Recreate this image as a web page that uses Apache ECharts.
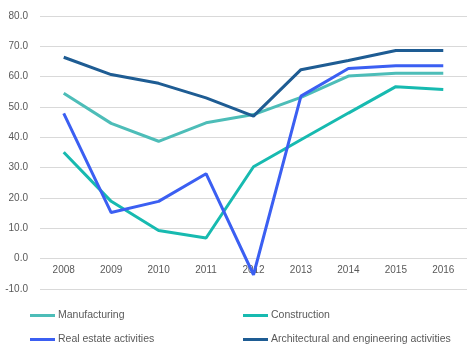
<!DOCTYPE html>
<html>
<head>
<meta charset="utf-8">
<script src="https://cdn.jsdelivr.net/npm/echarts@6/dist/echarts.min.js"></script>
<style>
  html, body { margin: 0; padding: 0; background: #fff; }
  #chart { width: 476px; height: 351px; }
</style>
</head>
<body>
<div id="chart"></div>
<script>
// data
const years = ["2008", "2009", "2010", "2011", "2012", "2013", "2014", "2015", "2016"]
const manufacturing = [54.5, 44.6, 38.7, 44.8, 47.5, 53.2, 60.2, 61.1, 61.1]
const construction = [35.1, 18.9, 9.3, 6.8, 30.3, 39.2, 48.0, 56.7, 55.8]
const realEstate = [47.9, 15.2, 18.9, 28.0, -5.3, 53.6, 62.7, 63.6, 63.6]
const architectural = [66.4, 60.7, 57.8, 53.0, 47.0, 62.3, 65.3, 68.6, 68.6]

const font = "'Liberation Sans', Arial, sans-serif"

const chart = echarts.init(document.getElementById("chart"), null, { renderer: "canvas" })

function line(name, data, color) {
    return {
        name,
        type: "line",
        data,
        symbol: "none",
        lineStyle: { width: 3, color },
        itemStyle: { color },
    }
}

// one legend per entry so the two columns line up like the original
function legendItem(name, left, top) {
    return {
        data: [name],
        left, top,
        padding: 0,
        itemWidth: 25, itemHeight: 3,
        icon: "rect",
        textStyle: { color: "#595959", fontSize: 10.5, fontFamily: font, padding: [0, 0, 0, -2] },
    }
}

chart.setOption({
    animation: false,
    grid: { left: 40, right: 9, top: 16, bottom: 62 },
    legend: [
        legendItem("Manufacturing", 30, 310),
        legendItem("Real estate activities", 30, 334),
        legendItem("Construction", 243, 310),
        legendItem("Architectural and engineering activities", 243, 334),
    ],
    xAxis: {
        type: "category",
        data: years,
        boundaryGap: true,
        offset: -30.3, // labels sit on the zero line
        axisLine: { show: false, onZero: false },
        axisTick: { show: false },
        axisLabel: { color: "#595959", fontSize: 10, fontFamily: font, margin: 7 },
    },
    yAxis: {
        type: "value",
        min: -10, max: 80, interval: 10,
        axisLine: { show: false },
        axisTick: { show: false },
        splitLine: { lineStyle: { color: "#d9d9d9" } },
        axisLabel: {
            color: "#595959", fontSize: 10, fontFamily: font, margin: 12,
            formatter: v => v.toFixed(1),
        },
    },
    series: [
        line("Manufacturing", manufacturing, "#4dbdb8"),
        line("Construction", construction, "#17bab0"),
        line("Real estate activities", realEstate, "#3b5ff2"),
        line("Architectural and engineering activities", architectural, "#1e5c93"),
    ],
})
</script>
</body>
</html>
